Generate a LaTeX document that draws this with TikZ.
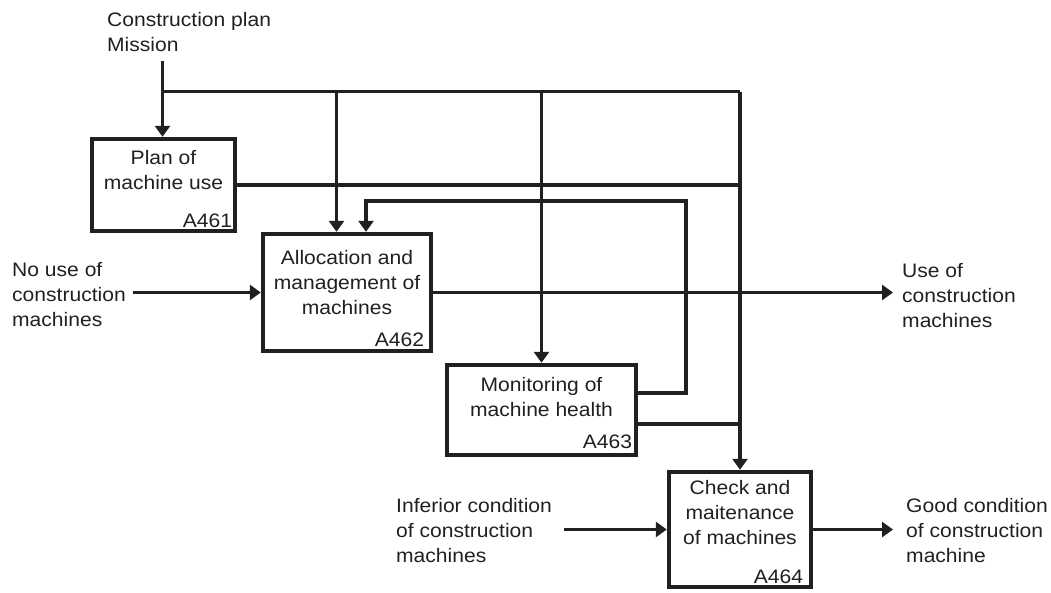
\documentclass[tikz,border=0pt]{standalone}
\usepackage{fontspec}
\setmainfont{Liberation Sans}[FakeStretch=1.08]
\usetikzlibrary{arrows.meta, positioning}
\definecolor{ink}{RGB}{35,31,32}

\begin{document}
\begin{tikzpicture}[x=1pt, y=-1pt,
    every node/.style={font=\fontsize{19.5}{25}\selectfont, text=ink, inner sep=0pt},
    procbox/.style={draw=ink, line width=4.4pt, rectangle},
    boxtext/.style={align=center},
    lbl/.style={align=left, anchor=north west},
    flow/.style={draw=ink, line width=3.8pt, -{Triangle[length=11pt, width=15pt]}},
    wire/.style={draw=ink, line width=3.8pt}]
    \useasboundingbox (0, 0) rectangle (1051, 592);

    % activity boxes
    \node[procbox, minimum width=143pt, minimum height=92pt] (a461) at (163.5, 185) {};
    \node[procbox, minimum width=168pt, minimum height=117pt] (a462) at (347, 292.5) {};
    \node[procbox, minimum width=189pt, minimum height=90pt] (a463) at (541.5, 410) {};
    \node[procbox, minimum width=142pt, minimum height=115pt] (a464) at (740, 529.5) {};

    \node[boxtext, below=13pt of a461.north] (a461t) {Plan of\\machine use};
    \node[boxtext, below=18pt of a462.north] (a462t) {Allocation and\\management of\\machines};
    \node[boxtext, below=14pt of a463.north] (a463t) {Monitoring of\\machine health};
    \node[boxtext, below=10pt of a464.north] (a464t) {Check and\\maitenance\\of machines};

    \node[above left=5pt and 5pt of a461.south east] (a461id) {A461};
    \node[above left=6pt and 9pt of a462.south east] (a462id) {A462};
    \node[above left=8pt and 6pt of a463.south east] (a463id) {A463};
    \node[above left=5pt and 10pt of a464.south east] (a464id) {A464};

    % outside labels
    \node[lbl] (ctrl) at (107, 12) {Construction plan\\Mission};
    \node[lbl] (nouse) at (12, 262) {No use of\\construction\\machines};
    \node[lbl] (use) at (902, 263) {Use of\\construction\\machines};
    \node[lbl] (inferior) at (396, 498) {Inferior condition\\of construction\\machines};
    \node[lbl] (good) at (906, 498) {Good condition\\of construction\\machine};

    \coordinate (ctrlin) at (162.5, 61);
    \coordinate (bus) at (162.5, 91.5);
    \coordinate (busend) at (740, 91.5);
    \coordinate (fbturn) at (686, 201);
    \coordinate (nousein) at (133, 292.5);
    \coordinate (useout) at (893, 292.5);
    \coordinate (inferin) at (564, 529.5);
    \coordinate (goodout) at (893, 529.5);

    % controls
    \draw[flow] (ctrlin) -- (ctrlin |- a461.north);
    \draw[wire] (bus) -- (busend);
    \draw[flow] ([xshift=-10.5pt]a462.north |- bus) -- ([xshift=-10.5pt]a462.north);
    \draw[flow] (a463.north |- bus) -- (a463.north);
    \draw[flow] (busend) -- (a464.north);
    \draw[wire] (a461.east) -- (a461.east -| busend);
    \draw[flow] ([yshift=17pt]a463.east) -| (fbturn) -| ([xshift=19pt]a462.north);
    \draw[wire] ([yshift=-14pt]a463.east) -- ([yshift=-14pt]a463.east -| busend);

    % inputs and outputs
    \draw[flow] (nousein) -- (a462.west);
    \draw[flow] (a462.east) -- (useout);
    \draw[flow] (inferin) -- (a464.west);
    \draw[flow] (a464.east) -- (goodout);
\end{tikzpicture}
\end{document}
